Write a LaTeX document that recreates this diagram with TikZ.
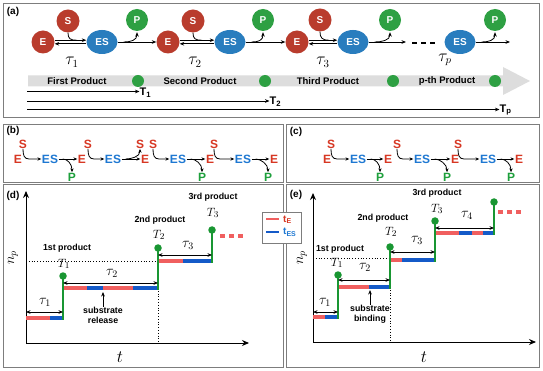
\documentclass[tikz,border=0pt]{standalone}
\usepackage{fontspec}
\setmainfont{Liberation Sans}
\usetikzlibrary{arrows.meta,shapes.geometric}
\definecolor{ered}{RGB}{185,60,45}
\definecolor{esblue}{RGB}{41,125,190}
\definecolor{pgreen}{RGB}{46,160,67}
\definecolor{tred}{RGB}{215,55,35}
\definecolor{tblue}{RGB}{30,120,210}
\definecolor{tgreen}{RGB}{30,160,60}
\definecolor{sred}{RGB}{240,95,95}
\definecolor{sblue}{RGB}{20,90,200}
\definecolor{sgreen}{RGB}{25,150,50}
\definecolor{bandgray}{RGB}{221,221,221}
\definecolor{framegray}{RGB}{125,125,125}
\begin{document}
\begin{tikzpicture}[x=1pt,y=-1pt,
  panel/.style={draw=framegray,line width=0.9pt},
  plabel/.style={font=\bfseries\fontsize{10}{12}\selectfont,inner sep=0pt},
  cE/.style={circle,fill=ered,minimum size=23pt,inner sep=0pt,text=white,font=\bfseries\fontsize{10}{12}\selectfont},
  cS/.style={cE},
  cP/.style={circle,fill=pgreen,minimum size=22pt,inner sep=0pt,text=white,font=\bfseries\fontsize{10}{12}\selectfont},
  cES/.style={ellipse,fill=esblue,minimum width=31pt,minimum height=24pt,inner sep=0pt,text=white,font=\bfseries\fontsize{10}{12}\selectfont},
  arr/.style={-{Stealth[length=4.5pt,width=3.6pt]},line width=0.8pt},
  ln/.style={line width=0.8pt},
  band/.style={font=\bfseries\fontsize{9.5}{11}\selectfont,inner sep=0pt},
  bdot/.style={circle,fill=pgreen,minimum size=12pt,inner sep=0pt},
  Tlab/.style={font=\bfseries\fontsize{11}{13}\selectfont,inner sep=0pt,anchor=west},
  tauA/.style={font=\fontsize{16}{18}\selectfont,inner sep=0pt},
  tE/.style={text=tred,font=\bfseries\fontsize{12}{14}\selectfont,inner sep=0.5pt},
  tS/.style={tE},
  tES/.style={text=tblue,font=\bfseries\fontsize{12}{14}\selectfont,inner sep=0.5pt},
  tP/.style={text=tgreen,font=\bfseries\fontsize{12}{14}\selectfont,inner sep=0.5pt},
  sarr/.style={-{Stealth[length=3.8pt,width=3.2pt]},line width=0.8pt},
  axis/.style={-{Stealth[length=7pt,width=6pt]},line width=1pt},
  rstep/.style={draw=sred,line width=3.6pt},
  bstep/.style={draw=sblue,line width=3.6pt},
  gline/.style={draw=sgreen,line width=2pt},
  gdot/.style={circle,fill=sgreen,minimum size=7.5pt,inner sep=0pt},
  tauarr/.style={{Stealth[length=4.5pt,width=3.6pt]}-{Stealth[length=4.5pt,width=3.6pt]},line width=0.8pt},
  tauD/.style={font=\fontsize{14}{16}\selectfont,inner sep=0pt},
  TD/.style={font=\fontsize{13}{15}\selectfont,inner sep=0pt},
  prod/.style={font=\bfseries\fontsize{8.8}{10}\selectfont,inner sep=0pt,align=center},
  dots/.style={draw=black,dotted,line width=0.8pt},
  rdash/.style={draw=sred,line width=3.6pt,dash pattern=on 5pt off 4pt},
]
\useasboundingbox (0,0) rectangle (543,371);
\fill[white] (0,0) rectangle (543,371);

% ---------------- panel frames ----------------
\draw[panel] (3,3) rectangle (539,117);
\draw[panel] (3,124) rectangle (283,182);
\draw[panel] (286,124) rectangle (539,182);
\draw[panel] (3,184) rectangle (283,367);
\draw[panel] (286,184) rectangle (539,367);

\node[plabel] (la) at (13,12) {(a)};
\node[plabel] (lb) at (13,131) {(b)};
\node[plabel] (lc) at (296,132) {(c)};
\node[plabel] (ld) at (13,196) {(d)};
\node[plabel] (le) at (296,195) {(e)};

% ---------------- panel (a) ----------------
\fill[bandgray] (28,75.5) -- (503,75.5) -- (503,67) -- (530,81) -- (503,95) -- (503,86.5) -- (28,86.5) -- cycle;
\node[band] (bp1) at (77,81) {First Product};
\node[band] (bp2) at (200,81) {Second Product};
\node[band] (bp3) at (328,81) {Third Product};
\node[band] (bp4) at (447,81) {p-th Product};
\node[bdot] (g1) at (138,81) {};
\node[bdot] (g2) at (265,81) {};
\node[bdot] (g3) at (393,81) {};
\node[bdot] (g4) at (495,81) {};

\coordinate (o1) at (27,91.5);
\coordinate (o2) at (27,101);
\coordinate (o3) at (27,109.5);
\node[Tlab] (T1) at (139.5,92.5) {T\textsubscript{1}};
\node[Tlab] (T2) at (269.5,101.5) {T\textsubscript{2}};
\node[Tlab] (Tp) at (499.5,110) {T\textsubscript{p}};
\draw[arr] (o1) -- (T1.west |- o1);
\draw[arr] (o2) -- (T2.west |- o2);
\draw[arr] (o3) -- (Tp.west |- o3);

% group 1
\node[cE] (e1) at (43,42) {E};
\node[cS] (s1) at (68,21) {S};
\node[cES] (es1) at (102,42) {ES};
\node[cP] (p1) at (137,20) {P};
% group 2
\node[cE] (e2) at (168,42) {E};
\node[cS] (s2) at (193,21) {S};
\node[cES] (es2) at (230,42) {ES};
\node[cP] (p2) at (263,20) {P};
% group 3
\node[cE] (e3) at (297,42) {E};
\node[cS] (s3) at (320,20) {S};
\node[cES] (es3) at (353,42) {ES};
\node[cP] (p3) at (390,20) {P};
% group p
\node[cES] (es4) at (460,42) {ES};
\node[cP] (p4) at (495,20) {P};

\foreach \e/\s/\es in {e1/s1/es1,e2/s2/es2,e3/s3/es3}{
  \draw[arr] ([yshift=1.8pt]\e.east) -- ([yshift=1.8pt]\es.west);
  \draw[arr] ([yshift=-1.8pt]\es.west) -- ([yshift=-1.8pt]\e.east);
  \draw[ln] (\s.south) .. controls ([yshift=-6pt]\s.south) and ([xshift=2pt,yshift=1.8pt]\s.south |- \e.east) .. ([xshift=9pt,yshift=1.8pt]\s.south |- \e.east);
}
\coordinate (end4) at (510,42);
\coordinate (dash3) at (406,42);
\draw[arr] (es1.east) -- (e2.west);
\draw[arr] (es2.east) -- (e3.west);
\draw[arr] (es3.east) -- (dash3);
\draw[arr] (es4.east) -- (end4);
\draw[line width=2.4pt,dash pattern=on 5pt off 4pt] (412,43) -- (438,43);
\foreach \es/\p in {es1/p1,es2/p2,es3/p3,es4/p4}{
  \draw[arr] ([xshift=6pt]\es.east) .. controls ([xshift=13pt]\es.east) and ([yshift=-9pt]\p.south) .. ([yshift=-1pt]\p.south);
}
\node[tauA] (tau1) at (72,62) {$\tau_1$};
\node[tauA] (tau2) at (195,62) {$\tau_2$};
\node[tauA] (tau3) at (323,62) {$\tau_3$};
\node[tauA] (taup) at (445,60) {$\tau_p$};

% ---------------- panel (b) ----------------
\node[tE] (be0) at (18,159) {E};
\node[tS] (bs0) at (23,144) {S};
\node[tES] (bes0) at (50,159) {ES};
\node[tP] (bp0) at (72,177) {P};
\node[tE] (be1) at (82,159) {E};
\node[tS] (bs1) at (88,144) {S};
\node[tES] (bes1) at (113,159) {ES};
\node[tS] (bsr) at (140,144) {S};
\node[tE] (be2) at (145,159) {E};
\node[tS] (bs2) at (153,144) {S};
\node[tES] (bes2) at (178,159) {ES};
\node[tP] (bp2) at (202,177) {P};
\node[tE] (be3) at (210,159) {E};
\node[tS] (bs3) at (214,144) {S};
\node[tES] (bes3) at (243,159) {ES};
\node[tP] (bp3) at (268,177) {P};
\node[tE] (be4) at (274,159) {E};

% ---------------- panel (c) ----------------
\node[tE] (ce0) at (327,159) {E};
\node[tS] (cs0) at (331,144) {S};
\node[tES] (ces0) at (358,159) {ES};
\node[tP] (cp0) at (380,177) {P};
\node[tE] (ce1) at (388,159) {E};
\node[tS] (cs1) at (397,144) {S};
\node[tES] (ces1) at (422,159) {ES};
\node[tP] (cp1) at (447,177) {P};
\node[tE] (ce2) at (455,159) {E};
\node[tS] (cs2) at (458,144) {S};
\node[tES] (ces2) at (488,159) {ES};
\node[tP] (cp2) at (511,177) {P};
\node[tE] (ce3) at (519,159) {E};

% substrate binding arrows
\foreach \s/\es in {bs0/bes0,bs1/bes1,bs2/bes2,bs3/bes3,cs0/ces0,cs1/ces1,cs2/ces2}{
  \draw[sarr] (\s.south) .. controls ([yshift=-6pt]\s.south) and ([xshift=1pt]\s.south |- \es.west) .. ([xshift=6pt]\s.south |- \es.west) -- (\es.west);
}
% ES -> E with product release
\foreach \es/\e/\p in {bes0/be1/bp0,bes2/be3/bp2,bes3/be4/bp3,ces0/ce1/cp0,ces1/ce2/cp1,ces2/ce3/cp2}{
  \draw[sarr] (\es.east) -- (\e.west);
  \draw[sarr] ([xshift=4pt]\es.east) .. controls ([xshift=9pt]\es.east) and ([yshift=8pt]\p.north) .. (\p.north);
}
% ES -> E with substrate release
\draw[sarr] (bes1.east) -- (be2.west);
\draw[sarr] ([xshift=4pt]bes1.east) .. controls ([xshift=9pt]bes1.east) and ([yshift=-8pt]bsr.south) .. (bsr.south);

% ---------------- panel (d) ----------------
\coordinate (dO) at (26,343);
\coordinate (dY) at (26,191);
\coordinate (dX) at (249,343);
\draw[axis] (dO) -- (dY);
\draw[axis] (dO) -- (dX);
\node[font=\fontsize{14}{16}\selectfont,rotate=90,inner sep=0pt] (dnp) at (13,258) {$n_p$};
\node[font=\fontsize{16}{18}\selectfont,inner sep=0pt] (dt) at (120,357) {$t$};

\draw[dots] (26,261) -- (158,261);
\draw[dots] (158,288) -- (158,343);
\draw[rstep] (26,318) -- (50,318);
\draw[bstep] (50,318) -- (63,318);
\draw[rstep] (63,288) -- (87,288);
\draw[bstep] (87,288) -- (103,288);
\draw[rstep] (103,288) -- (133,288);
\draw[bstep] (133,288) -- (158,288);
\draw[rstep] (158,261) -- (183,261);
\draw[bstep] (183,261) -- (212,261);
\node[gdot] (dd1) at (63,276) {};
\node[gdot] (dd2) at (158,248) {};
\node[gdot] (dd3) at (212,230) {};
\draw[gline] (63,319.8) -- (dd1.center);
\draw[gline] (158,289.8) -- (dd2.center);
\draw[gline] (212,262.8) -- (dd3.center);
\draw[rdash] (220,236) -- (243,236);
\draw[tauarr] (26,312) -- (63,312);
\draw[tauarr] (63,283) -- (158,283);
\draw[tauarr] (158,255) -- (212,255);
\node[tauD] (dtau1) at (45,302) {$\tau_1$};
\node[tauD] (dtau2) at (112,273) {$\tau_2$};
\node[tauD] (dtau3) at (188,245) {$\tau_3$};
\node[TD] (dT1) at (64,264) {$T_1$};
\node[TD] (dT2) at (159,235) {$T_2$};
\node[TD] (dT3) at (213,213) {$T_3$};
\node[prod] (d1st) at (67,248) {1st product};
\node[prod] (d2nd) at (160,220) {2nd product};
\node[prod] (d3rd) at (213,197) {3rd product};
\node[prod] (dsub) at (103,315) {substrate\\release};
\draw[arr] (dsub.north) -- (103,292);

% ---------------- panel (e) ----------------
\coordinate (eO) at (313,342);
\coordinate (eY) at (313,193);
\coordinate (eX) at (536,342);
\draw[axis] (eO) -- (eY);
\draw[axis] (eO) -- (eX);
\node[font=\fontsize{14}{16}\selectfont,rotate=90,inner sep=0pt] (enp) at (302,258) {$n_p$};
\node[font=\fontsize{16}{18}\selectfont,inner sep=0pt] (et) at (424,357) {$t$};

\draw[dots] (313,258) -- (390,258);
\draw[dots] (390,287) -- (390,342);
\draw[rstep] (313,317) -- (325,317);
\draw[bstep] (325,317) -- (338,317);
\draw[rstep] (338,287) -- (369,287);
\draw[bstep] (369,287) -- (390,287);
\draw[rstep] (390,260) -- (402,260);
\draw[bstep] (402,260) -- (435,260);
\draw[rstep] (435,233) -- (459,233);
\draw[bstep] (459,233) -- (472,233);
\draw[rstep] (472,233) -- (483,233);
\draw[bstep] (483,233) -- (494,233);
\node[gdot] (ed1) at (338,275) {};
\node[gdot] (ed2) at (390,247) {};
\node[gdot] (ed3) at (435,221) {};
\node[gdot] (ed4) at (494,202) {};
\draw[gline] (338,318.8) -- (ed1.center);
\draw[gline] (390,288.8) -- (ed2.center);
\draw[gline] (435,261.8) -- (ed3.center);
\draw[gline] (494,234.8) -- (ed4.center);
\draw[rdash] (498,212) -- (521,212);
\draw[tauarr] (313,312) -- (338,312);
\draw[tauarr] (338,280) -- (390,280);
\draw[tauarr] (390,252) -- (435,252);
\draw[tauarr] (435,228) -- (494,228);
\node[tauD] (etau1) at (325,302) {$\tau_1$};
\node[tauD] (etau2) at (365,267) {$\tau_2$};
\node[tauD] (etau3) at (417,240) {$\tau_3$};
\node[tauD] (etau4) at (467,215) {$\tau_4$};
\node[TD] (eT1) at (337,263) {$T_1$};
\node[TD] (eT2) at (391,232) {$T_2$};
\node[TD] (eT3) at (437,209) {$T_3$};
\node[prod] (e1st) at (340,249) {1st product};
\node[prod] (e2nd) at (383,218) {2nd product};
\node[prod] (e3rd) at (437,193) {3rd product};
\node[prod] (esub) at (370,314) {substrate\\binding};
\draw[arr] (esub.north) -- (370,290);

% ---------------- legend ----------------
\draw[draw=framegray,fill=white,line width=0.9pt] (262,212) rectangle (301,243);
\draw[draw=sred,line width=2.6pt] (266,219) -- (279,219);
\draw[draw=sblue,line width=2.6pt] (266,232) -- (279,232);
\node[text=tred,font=\bfseries\fontsize{10}{12}\selectfont,anchor=west,inner sep=0pt] (lgE) at (283,219.5) {t\textsubscript{E}};
\node[text=tblue,font=\bfseries\fontsize{10}{12}\selectfont,anchor=west,inner sep=0pt] (lgES) at (283,232.5) {t\textsubscript{ES}};
\end{tikzpicture}
\end{document}
